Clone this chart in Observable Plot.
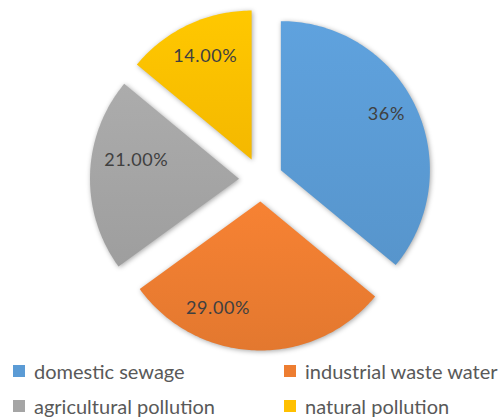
<!DOCTYPE html>
<html>
<head>
<meta charset="utf-8">
<script src="https://cdn.jsdelivr.net/npm/d3@7"></script>
<script src="https://cdn.jsdelivr.net/npm/@observablehq/plot@0.6"></script>
<style>
  html, body { margin: 0; padding: 0; background: #fff; }
  #wrap { width: 502px; height: 418px; position: relative; overflow: hidden; font-family: Lato, "Open Sans", sans-serif; }
  #wrap svg g[aria-label="line"] path { filter: drop-shadow(1px 1.5px 2.5px rgba(0,0,0,0.35)); }
  #wrap svg g[aria-label="text"] text { letter-spacing: 0.6px; }
  .legend { position: relative; height: 58px; }
  .item { position: absolute; display: flex; align-items: center; color: #595959; font-size: 20px; white-space: nowrap; }
  .sw { width: 12px; height: 12px; margin-right: 9px; flex: none; }
</style>
</head>
<body>
<div id="wrap"></div>
<script>
// ---- data ----
const categories = ["domestic sewage", "industrial waste water", "agricultural pollution", "natural pollution"];
const shares = [36, 29, 21, 14];
const labels = ["36%", "29.00%", "21.00%", "14.00%"];
const colors = ["#5b9bd5", "#ed7d31", "#a5a5a5", "#ffc000"];

// ---- layout constants ----
const W = 502, H = 360;
const cx = 260.5, cy = 179, R = 149;   // pixel centre and radius
const explode = 22 / R;                 // explosion offset in radius units
// label placement within each slice: [fraction of slice angle, fraction of radius]
const labelPlace = [[0.48, 0.80], [0.69, 0.77], [0.61, 0.70], [0.52, 0.76]];

const arcs = d3.pie().sort(null).value(d => d).startAngle(0).endAngle(2 * Math.PI)(shares);

const outline = [];
const labelPts = [];
arcs.forEach((a, i) => {
  const mid = (a.startAngle + a.endAngle) / 2;
  const ox = explode * Math.sin(mid), oy = explode * Math.cos(mid);
  const name = categories[i];
  outline.push({name, x: ox, y: oy});
  const n = Math.max(8, Math.ceil((a.endAngle - a.startAngle) * 180 / Math.PI));
  for (let k = 0; k <= n; ++k) {
    const t = a.startAngle + (a.endAngle - a.startAngle) * k / n;
    outline.push({name, x: ox + Math.sin(t), y: oy + Math.cos(t)});
  }
  outline.push({name, x: ox, y: oy});
  const [fa, fr] = labelPlace[i];
  const la = a.startAngle + (a.endAngle - a.startAngle) * fa;
  labelPts.push({name, text: labels[i], x: ox + fr * Math.sin(la), y: oy + fr * Math.cos(la)});
});

const gradIds = categories.map((_, i) => `grad${i}`);

const svg = Plot.plot({
  width: W,
  height: H,
  margin: 0,
  x: {domain: [-cx / R, (W - cx) / R], axis: null},
  y: {domain: [-(H - cy) / R, cy / R], axis: null},
  color: {type: "ordinal", domain: categories, range: gradIds.map(id => `url(#${id})`)},
  marks: [
    Plot.line(outline, {x: "x", y: "y", z: "name", fill: "name", stroke: "none", curve: "linear"}),
    Plot.text(labelPts, {x: "x", y: "y", text: "text", fill: "#404040", fontSize: 18, fontFamily: "Lato, 'Open Sans', sans-serif"})
  ]
});

// gradients
const defs = d3.select(svg).insert("defs", ":first-child");
colors.forEach((c, i) => {
  const g = defs.append("linearGradient").attr("id", gradIds[i]).attr("x1", 0).attr("y1", 0).attr("x2", 0).attr("y2", 1);
  g.append("stop").attr("offset", "0%").attr("stop-color", d3.color(c).brighter(0.12).formatHex());
  g.append("stop").attr("offset", "100%").attr("stop-color", d3.color(c).darker(0.12).formatHex());
});

const wrap = document.getElementById("wrap");
wrap.appendChild(svg);

// legend (two columns, two rows)
const legend = document.createElement("div");
legend.className = "legend";
const legPos = [[13, 11], [284, 11], [13, 46], [284, 46]];
categories.forEach((name, i) => {
  const it = document.createElement("div");
  it.className = "item";
  it.style.left = legPos[i][0] + "px";
  it.style.top = (legPos[i][1] - 12) + "px";
  it.style.height = "24px";
  const sw = document.createElement("span");
  sw.className = "sw";
  sw.style.background = colors[i];
  const tx = document.createElement("span");
  tx.textContent = name;
  it.appendChild(sw);
  it.appendChild(tx);
  legend.appendChild(it);
});
wrap.appendChild(legend);
</script>
</body>
</html>
